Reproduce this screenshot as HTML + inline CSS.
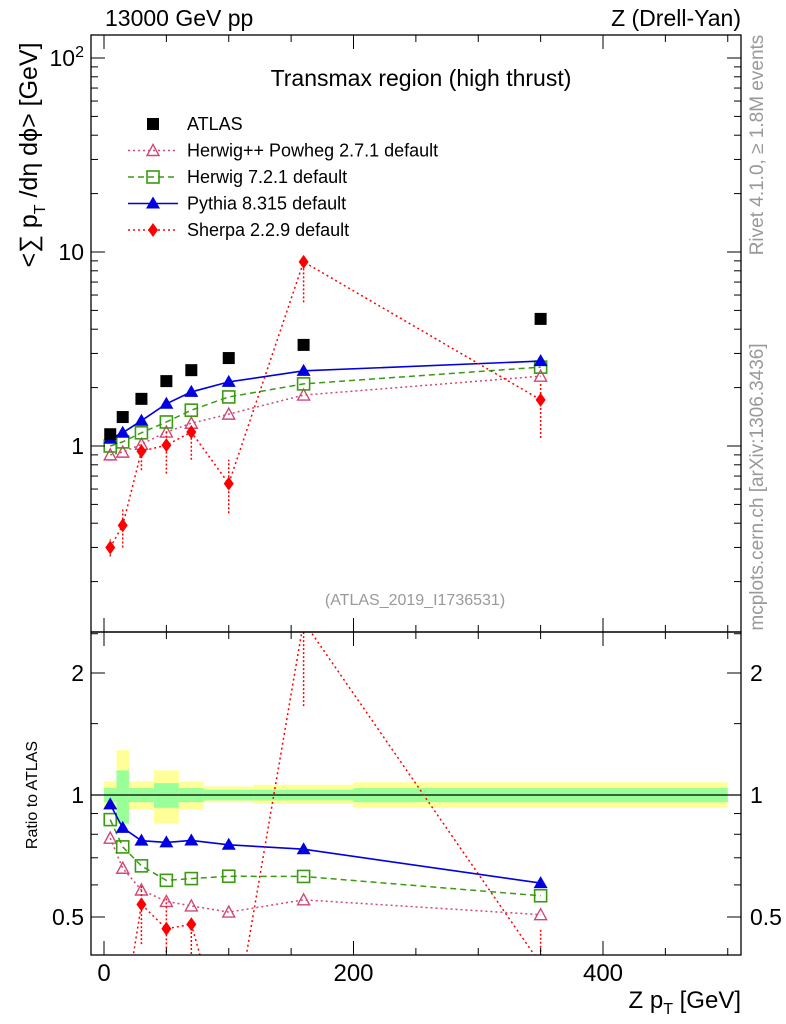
<!DOCTYPE html>
<html><head><meta charset="utf-8"><style>
html,body{margin:0;background:#fff;overflow:hidden;width:786px;height:1024px;}
svg{display:block;font-family:"Liberation Sans",sans-serif;}
</style></head><body>
<svg id="c" width="786" height="1024" viewBox="0 0 786 1024"></svg>
<script>
const xs=[5,15,30,50,70,100,160,350];
const binLo=[0,10,20,40,60,80,120,200];
const binHi=[10,20,40,60,80,120,200,500];
const atlas=[1.15,1.41,1.75,2.16,2.46,2.84,3.32,4.52];
const pythia=[1.09,1.17,1.35,1.65,1.90,2.14,2.44,2.74];
const herwig7=[1.0,1.05,1.17,1.33,1.53,1.79,2.09,2.55];
const herwigpp=[0.90,0.93,1.02,1.18,1.31,1.46,1.83,2.29];
const sherpa=[0.30,0.39,0.94,1.01,1.18,0.64,8.9,1.73];
const sherpaLo=[0.27,0.30,0.75,0.72,0.85,0.45,5.5,1.1];
const sherpaHi=[0.33,0.48,1.05,1.2,1.2,0.85,9.6,2.1];
const yelHi=[1.08,1.29,1.08,1.15,1.08,1.05,1.06,1.075];
const yelLo=[0.92,0.85,0.92,0.85,0.92,0.96,0.95,0.93];
const grnHi=[1.04,1.15,1.04,1.07,1.04,1.03,1.03,1.04];
const grnLo=[0.96,0.85,0.96,0.93,0.96,0.97,0.97,0.96];
const xTicks=[0,200,400];

const S=document.getElementById('c');const NS='http://www.w3.org/2000/svg';
function el(t,a,p){const e=document.createElementNS(NS,t);for(const k in a)e.setAttribute(k,a[k]);(p||S).appendChild(e);return e;}
const L=91,R=741,T=35,MB=632,RB=955;
const X=v=>104+v*1.2475;
const Y=v=>446-194*Math.log10(v);
const RY=v=>795-122*Math.log2(v);
const defs=el('defs',{});
const c1=el('clipPath',{id:'cm'},defs);el('rect',{x:L,y:T,width:R-L,height:MB-T},c1);
const c2=el('clipPath',{id:'cr'},defs);el('rect',{x:L,y:MB,width:R-L,height:RB-MB},c2);
const gm=el('g',{'clip-path':'url(#cm)'});
const gr=el('g',{'clip-path':'url(#cr)'});
for(let i=0;i<xs.length;i++){
 const b=el('rect',{x:X(binLo[i]),y:RY(yelHi[i]),width:X(binHi[i])-X(binLo[i]),height:RY(yelLo[i])-RY(yelHi[i]),fill:'#ffff99'},gr);
 
 const g=el('rect',{x:X(binLo[i]),y:RY(grnHi[i]),width:X(binHi[i])-X(binLo[i]),height:RY(grnLo[i])-RY(grnHi[i]),fill:'#99ff99'},gr);
 
}
el('line',{x1:L,x2:R,y1:RY(1),y2:RY(1),stroke:'#000','stroke-width':1.3},gr);
el('rect',{x:L,y:T,width:R-L,height:MB-T,fill:'none',stroke:'#000','stroke-width':1.3});
el('rect',{x:L,y:MB,width:R-L,height:RB-MB,fill:'none',stroke:'#000','stroke-width':1.3});
for(let v=0;v<=500;v+=50){const maj=v%200==0;const l=maj?14:7;
 for(const [a,b] of [[T,MB],[MB,RB]]){el('line',{x1:X(v),x2:X(v),y1:b,y2:b-l,stroke:'#000'});el('line',{x1:X(v),x2:X(v),y1:a,y2:a+l,stroke:'#000'});}}
for(const v of xTicks){const t=el('text',{x:X(v),y:981,'font-size':24,'text-anchor':'middle'});t.textContent=v;}
for(let d=-1;d<=2;d++)for(let m=1;m<10;m++){const v=m*Math.pow(10,d);const y=Y(v);if(y<T||y>MB)continue;const l=m==1?14:7;
 el('line',{x1:L,x2:L+l,y1:y,y2:y,stroke:'#000'});el('line',{x1:R,x2:R-l,y1:y,y2:y,stroke:'#000'});}
[[1,'1'],[10,'10']].forEach(([v,s])=>{const t=el('text',{x:84,y:Y(v)+8,'font-size':23,'text-anchor':'end'});t.textContent=s;});
{const t=el('text',{x:84,y:Y(100)+8,'font-size':23,'text-anchor':'end'});t.innerHTML='10<tspan dy="-9" font-size="16">2</tspan>';}
[0.4,0.5,0.6,0.7,0.8,0.9,1,1.5,2,2.5].forEach(v=>{const y=RY(v);if(y<MB||y>RB)return;const l=(v==0.5||v==1||v==2)?14:7;
 el('line',{x1:L,x2:L+l,y1:y,y2:y,stroke:'#000'});el('line',{x1:R,x2:R-l,y1:y,y2:y,stroke:'#000'});});
[[0.5,'0.5'],[1,'1'],[2,'2']].forEach(([v,s])=>{const t=el('text',{x:84,y:RY(v)+8,'font-size':23,'text-anchor':'end'});t.textContent=s;
 const t2=el('text',{x:750,y:RY(v)+8,'font-size':23});t2.textContent=s;});
function marker(g,type,x,y,col){
 if(type=='sq')el('rect',{x:x-6,y:y-6,width:12,height:12,fill:col},g);
 else if(type=='osq')el('rect',{x:x-6,y:y-6,width:12,height:12,fill:'none',stroke:col,'stroke-width':1.6},g);
 else if(type=='tri')el('polygon',{points:`${x},${y-7} ${x-7},${y+5} ${x+7},${y+5}`,fill:col},g);
 else if(type=='otri')el('polygon',{points:`${x},${y-6} ${x-6},${y+5} ${x+6},${y+5}`,fill:'none',stroke:col,'stroke-width':1.4},g);
 else if(type=='dia')el('polygon',{points:`${x},${y-7} ${x-5},${y} ${x},${y+7} ${x+5},${y}`,fill:col},g);
}
const series=[
 {n:'herwigpp',d:herwigpp,c:'#d04878',m:'otri',dash:'2,3',w:1.5},
 {n:'herwig7',d:herwig7,c:'#3a9a10',m:'osq',dash:'6,4',w:1.5},
 {n:'pythia',d:pythia,c:'#0000e0',m:'tri',dash:'',w:1.6},
 {n:'sherpa',d:sherpa,c:'#ff0000',m:'dia',dash:'2,3',w:1.5}];
for(const s of series){
 for(const [g,fy,isR] of [[gm,Y,false],[gr,RY,true]]){
  const gg=el('g',{},g);
  const vals=s.d.map((v,i)=>isR?v/atlas[i]:v);
  el('polyline',{points:xs.map((x,i)=>X(x)+','+fy(vals[i])).join(' '),fill:'none',stroke:s.c,'stroke-width':s.w,'stroke-dasharray':s.dash},gg);
  if(s.n=='sherpa')xs.forEach((x,i)=>{const k=isR?1/atlas[i]:1;el('line',{x1:X(x),x2:X(x),y1:fy(sherpaLo[i]*k),y2:fy(sherpaHi[i]*k),stroke:s.c,'stroke-width':1.5,'stroke-dasharray':'2,2'},gg);});
  xs.forEach((x,i)=>marker(gg,s.m,X(x),fy(vals[i]),s.c));
 }
}
{const ga=el('g',{},gm);
 xs.forEach((x,i)=>marker(ga,'sq',X(x),Y(atlas[i]),'#000'));}
const leg=[['ATLAS','#000','sq',''],['Herwig++ Powheg 2.7.1 default','#d04878','otri','2,3'],['Herwig 7.2.1 default','#3a9a10','osq','6,4'],['Pythia 8.315 default','#0000e0','tri',''],['Sherpa 2.2.9 default','#ff0000','dia','2,3']];
leg.forEach((l,i)=>{const y=124+i*26.5;const g=el('g',{});
 if(i>0)el('line',{x1:128,x2:178,y1:y,y2:y,stroke:l[1],'stroke-width':1.5,'stroke-dasharray':l[3]},g);
 marker(g,l[2],153,y,l[1]);const t=el('text',{x:187,y:y+6,'font-size':18},g);t.textContent=l[0];});
function txt(x,y,s,a,name,extra){const t=el('text',Object.assign({x:x,y:y,'text-anchor':a||'start'},extra||{}));t.textContent=s;return t;}
txt(105,26,'13000 GeV pp','start','title-left',{'font-size':23});
txt(741,26,'Z (Drell-Yan)','end','title-right',{'font-size':23});
txt(421,86,'Transmax region (high thrust)','middle','plot-title',{'font-size':23});
txt(415,605,'(ATLAS_2019_I1736531)','middle','analysis-label',{'font-size':16,fill:'#999'});
txt(741,1008,'Z p','end','x-axis-title',{'font-size':24}).innerHTML='Z p<tspan dy="6" font-size="16">T</tspan><tspan dy="-6"> [GeV]</tspan>';
txt(0,0,'','middle','y-axis-title',{'font-size':25,transform:'translate(37,155) rotate(-90)'}).innerHTML='&lt;∑ p<tspan dy="8" font-size="16">T</tspan><tspan dy="-8"> /dη dϕ&gt; [GeV]</tspan>';
txt(0,0,'Ratio to ATLAS','middle','ratio-axis-title',{'font-size':16,transform:'translate(37,795) rotate(-90)'});
txt(0,0,'Rivet 4.1.0, ≥ 1.8M events','middle','rivet-label',{'font-size':19,fill:'#999',transform:'translate(763,145) rotate(-90)'});
txt(0,0,'mcplots.cern.ch [arXiv:1306.3436]','middle','mcplots-label',{'font-size':19,fill:'#999',transform:'translate(763,487) rotate(-90)'});
</script>
</body></html>
